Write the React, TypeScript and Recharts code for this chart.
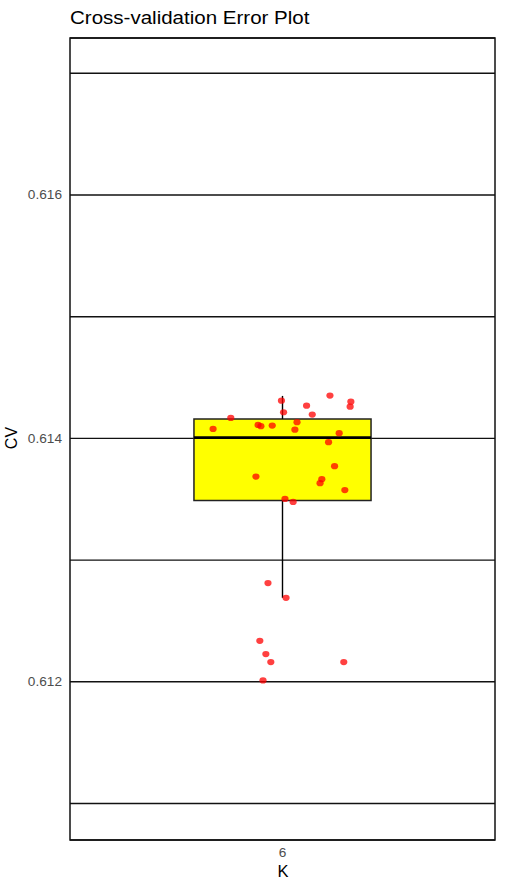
import { ComposedChart, Scatter, XAxis, YAxis, CartesianGrid, ReferenceArea, ReferenceLine } from 'recharts';

// jittered CV values for K = 6
const kJitter = [
  5.997, 6.003, 6.134, 6.068, 6.193, 6.191, 6.084, 5.854, 5.804, 5.931,
  5.939, 5.971, 6.041, 6.035, 6.16, 6.13, 6.147, 5.925, 6.111, 6.106,
  6.176, 6.007, 6.03, 5.959, 6.01, 5.936, 5.953, 5.967, 6.173, 5.945,
];
const cvValues = [
  0.61431, 0.614215, 0.614352, 0.614269, 0.614302, 0.614261, 0.614196, 0.614168, 0.614078, 0.614111,
  0.6141, 0.614105, 0.614133, 0.614072, 0.614043, 0.613969, 0.613772, 0.613686, 0.613665, 0.613632,
  0.613575, 0.613503, 0.613478, 0.612811, 0.61269, 0.612337, 0.612228, 0.612162, 0.612162, 0.612011,
];

// box summary for K = 6
const boxK = 6;
const boxHalfWidth = 0.25;
const whiskerLow = 0.61269;
const q1 = 0.613489;
const median = 0.614006;
const q3 = 0.61416;
const whiskerHigh = 0.614349;

const yDomain = [0.61070, 0.61729];
const yTicks = [0.611, 0.612, 0.613, 0.614, 0.615, 0.616, 0.617];
const xTicks = [6];

const points = kJitter.map((k, i) => ({ k, cv: cvValues[i] }));

const FONT = '"Liberation Sans", Arial, Helvetica, sans-serif';
const STRETCH = 1.11;

// plot panel box (matches chart margins below)
const PANEL = { left: 70, top: 38, right: 495, bottom: 840 };

function YTick({ x, y, payload }: any) {
  const v = payload.value;
  const major = Math.round(v * 1000) % 2 === 0;
  if (!major) return null;
  return (
    <g transform={`translate(${x},${y})`}>
      <text transform={`scale(${STRETCH},1)`} textAnchor="end" dy="0.355em" fontSize={12.3} fill="#4d4d4d" fontFamily={FONT}>
        {v.toFixed(3)}
      </text>
    </g>
  );
}

function XTick({ x, y, payload }: any) {
  return (
    <g transform={`translate(${x},${y})`}>
      <text transform={`scale(${STRETCH},1)`} textAnchor="middle" dy="0.71em" fontSize={12.3} fill="#4d4d4d" fontFamily={FONT}>
        {payload.value}
      </text>
    </g>
  );
}

const Dot = (props: any) => {
  const { cx, cy } = props;
  return <ellipse cx={cx} cy={cy} rx={3.6} ry={3.1} fill="#ff0000" fillOpacity={0.75} />;
};

export default function App() {
  return (
    <div style={{ position: 'absolute', left: 0, top: 0, width: 506, height: 889, background: '#fff' }}>
      <ComposedChart width={506} height={889} margin={{ top: 38, right: 11, bottom: 19, left: 0 }}>
        <CartesianGrid vertical={false} stroke="#111" strokeWidth={1.4} />
        <XAxis
          type="number"
          dataKey="k"
          domain={[5.4, 6.6]}
          ticks={xTicks}
          tickLine={false}
          axisLine={false}
          height={30}
          tick={<XTick />}
          allowDataOverflow
        />
        <YAxis
          type="number"
          dataKey="cv"
          domain={yDomain}
          ticks={yTicks}
          tickLine={false}
          axisLine={false}
          width={70}
          tick={<YTick />}
          allowDataOverflow
          interval={0}
        />
        <ReferenceLine segment={[{ x: boxK, y: q3 }, { x: boxK, y: whiskerHigh }]} stroke="#000" strokeWidth={1.4} />
        <ReferenceLine segment={[{ x: boxK, y: q1 }, { x: boxK, y: whiskerLow }]} stroke="#000" strokeWidth={1.4} />
        <ReferenceArea
          x1={boxK - boxHalfWidth}
          x2={boxK + boxHalfWidth}
          y1={q1}
          y2={q3}
          fill="#ffff00"
          fillOpacity={1}
          stroke="#222"
          strokeWidth={1.5}
        />
        <ReferenceLine
          segment={[{ x: boxK - boxHalfWidth, y: median }, { x: boxK + boxHalfWidth, y: median }]}
          stroke="#000"
          strokeWidth={2.8}
        />
        <Scatter data={points} dataKey="cv" shape={<Dot />} isAnimationActive={false} />
      </ComposedChart>
      <svg width={506} height={889} style={{ position: 'absolute', left: 0, top: 0, pointerEvents: 'none' }}>
        <rect
          x={PANEL.left}
          y={PANEL.top}
          width={PANEL.right - PANEL.left}
          height={PANEL.bottom - PANEL.top}
          fill="none"
          stroke="#111"
          strokeWidth={1.5}
        />
        <text x={70} y={24} fontSize={18.5} fontFamily={FONT} fill="#000" transform={`translate(70,0) scale(${STRETCH},1) translate(-70,0)`}>
          Cross-validation Error Plot
        </text>
        <text x={283} y={877} fontSize={16.5} fontFamily={FONT} fill="#000" textAnchor="middle">
          K
        </text>
        <text x={17} y={438} fontSize={16} fontFamily={FONT} fill="#000" textAnchor="middle" transform="rotate(-90,17,438)">
          CV
        </text>
      </svg>
    </div>
  );
}
